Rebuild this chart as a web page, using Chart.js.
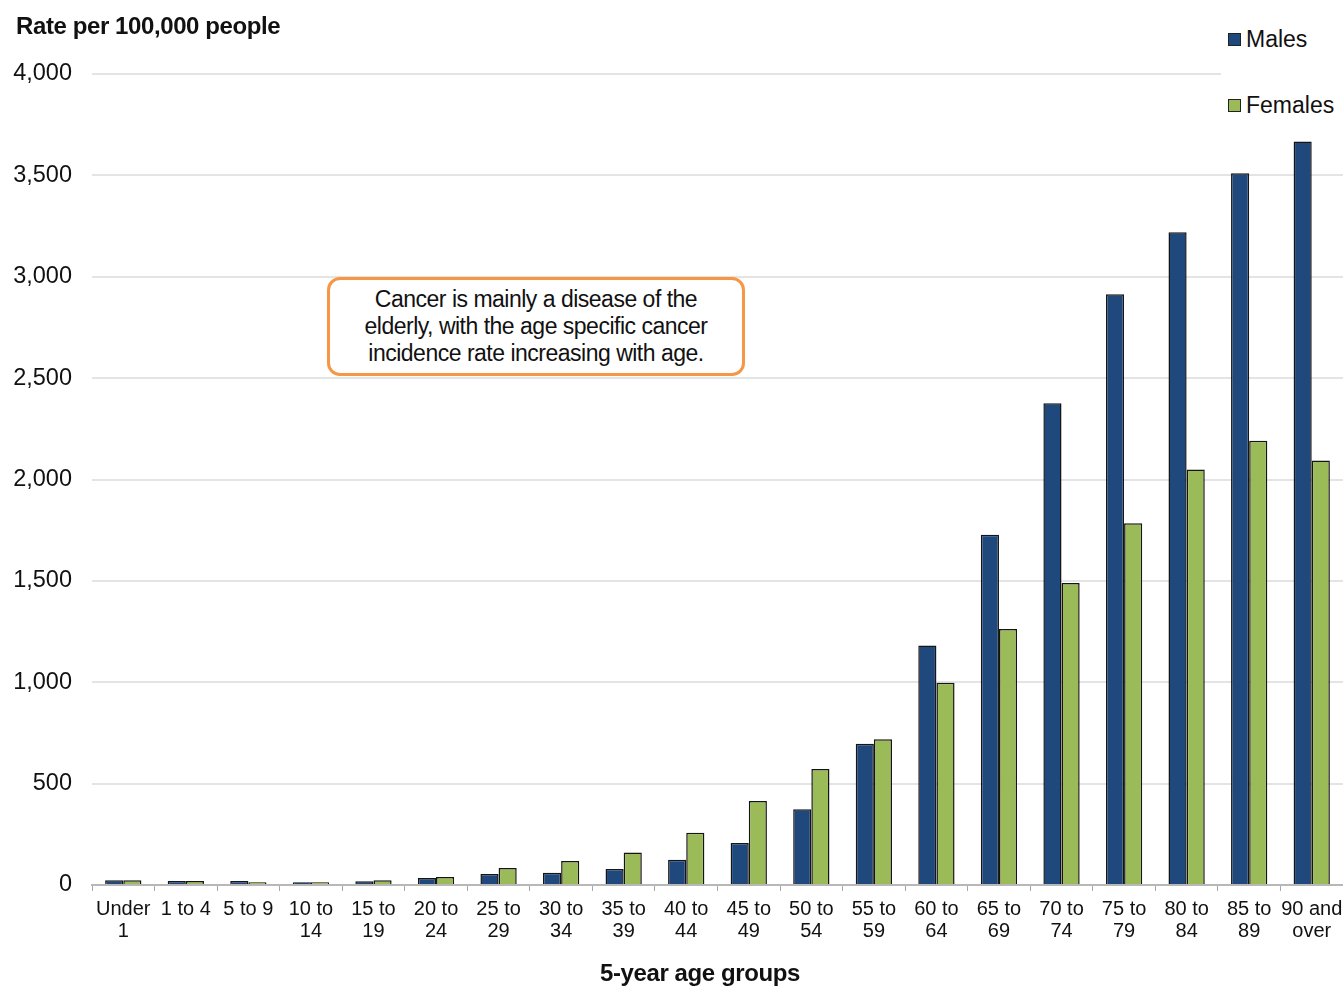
<!DOCTYPE html>
<html>
<head>
<meta charset="utf-8">
<script src="https://cdn.jsdelivr.net/npm/chart.js@4"></script>
<style>
    body { margin: 0; background: #fff; font-family: "Liberation Sans", Arial, sans-serif; }
    #wrap { position: relative; width: 1343px; height: 986px; overflow: hidden; }
    #yTitle { position: absolute; left: 16px; top: 12px; font-weight: bold; font-size: 24px; color: #111; letter-spacing: -0.4px; }
    #xTitle { position: absolute; left: 500px; width: 400px; top: 959px; text-align: center; font-weight: bold; font-size: 24px; color: #111; letter-spacing: -0.4px; }
    #legend { position: absolute; left: 1221px; top: 22px; width: 122px; height: 100px; background: #fff; }
    .leg { position: absolute; left: 7px; font-size: 23px; color: #111; display: flex; align-items: center; }
    .leg span.box { display: inline-block; width: 11px; height: 11px; border: 1px solid #222; margin-right: 5px; }
    #note { position: absolute; left: 327px; top: 277px; width: 418px; height: 99px; border: 3px solid #F79646; border-radius: 13px; background: #fff;
            font-size: 23px; line-height: 27px; text-align: center; color: #111; box-sizing: border-box; padding-top: 6px; letter-spacing: -0.5px; }
</style>
</head>
<body>
<div id="wrap">
    <canvas id="chart"></canvas>
    <div id="yTitle">Rate per 100,000 people</div>
    <div id="xTitle">5-year age groups</div>
    <div id="legend">
        <div class="leg" style="top:4px"><span class="box" style="background:#1F497D"></span>Males</div>
        <div class="leg" style="top:70px"><span class="box" style="background:#9BBB59"></span>Females</div>
    </div>
    <div id="note">Cancer is mainly a disease of the<br>elderly, with the age specific cancer<br>incidence rate increasing with age.</div>
</div>
<script>
    // Age groups (x axis)
    const ageGroups = [
        ['Under', '1'], '1 to 4', '5 to 9', ['10 to', '14'], ['15 to', '19'],
        ['20 to', '24'], ['25 to', '29'], ['30 to', '34'], ['35 to', '39'], ['40 to', '44'],
        ['45 to', '49'], ['50 to', '54'], ['55 to', '59'], ['60 to', '64'], ['65 to', '69'],
        ['70 to', '74'], ['75 to', '79'], ['80 to', '84'], ['85 to', '89'], ['90 and', 'over']
    ];

    // Rate per 100,000 people
    const males = [24, 20, 20, 14, 18, 35, 54, 60, 79, 124, 207, 374, 697, 1181, 1727, 2376, 2914, 3220, 3511, 3667];
    const females = [24, 20, 14, 14, 24, 40, 84, 118, 160, 258, 414, 572, 719, 997, 1263, 1489, 1784, 2049, 2191, 2094];

    const yMax = 4000;
    const yStep = 500;

    const fontFamily = '"Liberation Sans", Arial, sans-serif';
    const ctx = document.getElementById('chart').getContext('2d');

    new Chart(ctx, {
        type: 'bar',
        data: {
            labels: ageGroups,
            datasets: [
                {
                    label: 'Males',
                    data: males,
                    backgroundColor: '#1F497D',
                    borderColor: '#151515',
                    borderWidth: 1.5,
                    borderSkipped: 'bottom',
                    categoryPercentage: 0.58,
                    barPercentage: 1
                },
                {
                    label: 'Females',
                    data: females,
                    backgroundColor: '#9BBB59',
                    borderColor: '#151515',
                    borderWidth: 1.5,
                    borderSkipped: 'bottom',
                    categoryPercentage: 0.58,
                    barPercentage: 1
                }
            ]
        },
        options: {
            responsive: true,
            maintainAspectRatio: false,
            animation: false,
            layout: { padding: { top: 74, right: 0, bottom: 0, left: 0 } },
            plugins: {
                legend: { display: false },
                tooltip: { enabled: false }
            },
            scales: {
                y: {
                    min: 0,
                    max: yMax,
                    border: { display: false },
                    grid: {
                        color: '#e4e4e4',
                        lineWidth: 2,
                        drawTicks: false
                    },
                    ticks: {
                        stepSize: yStep,
                        padding: 20,
                        color: '#111',
                        font: { family: fontFamily, size: 23.5 },
                        callback: value => value.toLocaleString('en-US')
                    },
                    afterFit: axis => { axis.width = 92; }
                },
                x: {
                    border: { display: true, color: '#b8b8b8', width: 2 },
                    grid: {
                        drawOnChartArea: false,
                        drawTicks: true,
                        tickLength: 6,
                        color: '#a8a8a8',
                        lineWidth: 1
                    },
                    ticks: {
                        color: '#111',
                        maxRotation: 0,
                        autoSkip: false,
                        padding: 7,
                        font: { family: fontFamily, size: 20, lineHeight: 1.1 }
                    },
                    afterFit: axis => {
                        axis.height = 101;
                        axis.paddingLeft = 0;
                        axis.paddingRight = 0;
                    }
                }
            }
        }
    });
</script>
</body>
</html>
